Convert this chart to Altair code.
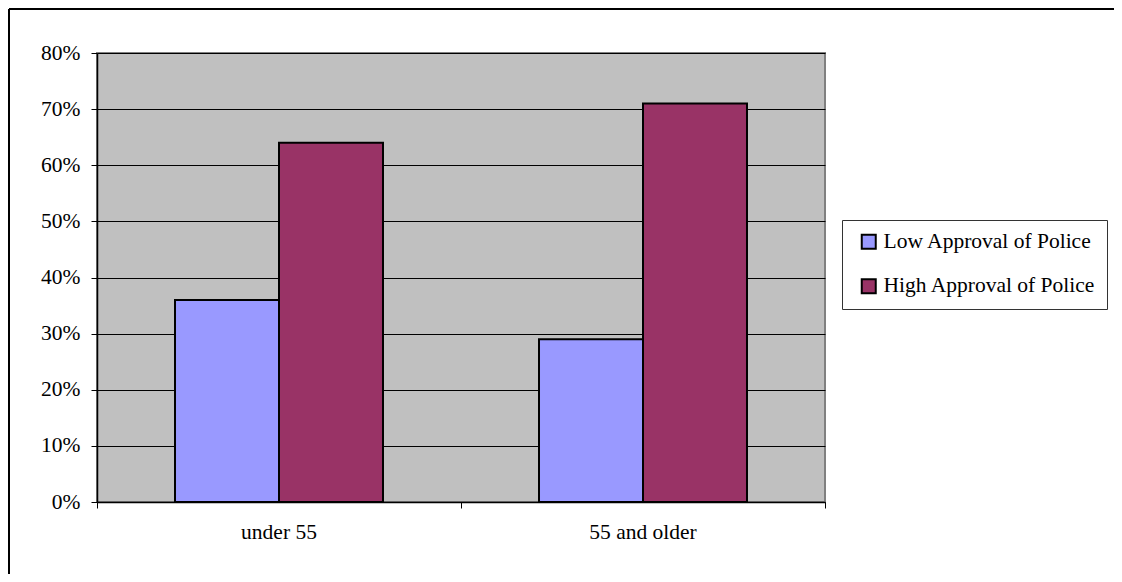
import altair as alt
import pandas as pd

groups = ["under 55", "55 and older"]
series = ["Low Approval of Police", "High Approval of Police"]
low_values = [0.36, 0.29]
high_values = [0.64, 0.71]
colors = ["#9999FF", "#993366"]
y_ticks = [0, 0.1, 0.2, 0.3, 0.4, 0.5, 0.6, 0.7, 0.8]
category_bounds = [0, 1, 2]

rows = []
for g, lo, hi in zip(groups, low_values, high_values):
    rows.append({"group": g, "series": series[0], "value": lo})
    rows.append({"group": g, "series": series[1], "value": hi})
df = pd.DataFrame(rows)

FONT = "Times New Roman, Liberation Serif, serif"
FS = 21.5
W, H = 728, 449

bars = alt.Chart(df).mark_bar(stroke="black", strokeWidth=2).encode(
    x=alt.X(
        "group:N",
        sort=groups,
        scale=alt.Scale(paddingInner=0.4286, paddingOuter=0.2143),
        axis=alt.Axis(
            title=None, orient="bottom", ticks=False, labelAngle=0,
            domain=True, domainColor="black", domainWidth=1.5,
            labelFont=FONT, labelFontSize=FS, labelColor="black",
            labelPadding=19, grid=False,
        ),
    ),
    xOffset=alt.XOffset("series:N", sort=series),
    y=alt.Y(
        "value:Q",
        scale=alt.Scale(domain=[0, 0.8], nice=False),
        axis=alt.Axis(
            title=None, values=y_ticks, format=".0%",
            labelFont=FONT, labelFontSize=FS, labelColor="black",
            tickSize=6, tickColor="black", domainColor="black", domainWidth=1.5,
            grid=True, gridColor="black", gridWidth=1, labelPadding=11,
        ),
    ),
    color=alt.Color(
        "series:N",
        sort=series,
        scale=alt.Scale(domain=series, range=colors),
        legend=alt.Legend(
            title=None, orient="none", legendX=745, legendY=167,
            fillColor="white", strokeColor="#333333", padding=11,
            rowPadding=21.5, symbolType="square", symbolSize=196,
            symbolOffset=5,
            symbolStrokeColor="black", symbolStrokeWidth=2, symbolOpacity=1,
            labelFont=FONT, labelFontSize=FS, labelColor="black",
            labelOffset=4, labelLimit=0,
        ),
    ),
)

ticks = alt.Chart(pd.DataFrame({"b": category_bounds})).mark_rule(opacity=0).encode(
    x=alt.X(
        "b:Q",
        scale=alt.Scale(domain=[0, 2], nice=False, zero=False),
        axis=alt.Axis(
            title=None, orient="bottom", values=category_bounds, labels=False,
            ticks=True, tickSize=6, tickColor="black", tickWidth=1,
            domain=False, grid=False,
        ),
    )
)

frame_top = alt.Chart(pd.DataFrame({"k": [0]})).mark_rule(
    color="black", strokeWidth=2
).encode(x=alt.value(-88), x2=alt.value(1040), y=alt.value(-44))
frame_left = alt.Chart(pd.DataFrame({"k": [0]})).mark_rule(
    color="black", strokeWidth=2
).encode(x=alt.value(-88), y=alt.value(-44), y2=alt.value(540))

chart = alt.layer(bars, ticks, frame_top, frame_left).resolve_scale(
    x="independent"
).properties(
    width=W, height=H,
    background="white",
    padding={"left": 89, "top": 45, "right": 289, "bottom": 72},
    autosize=alt.AutoSizeParams(type="none"),
).configure_view(
    fill="#C0C0C0", stroke="#808080", strokeWidth=2
)

chart.save("out.html", embed_options={"renderer": "svg", "actions": False})
